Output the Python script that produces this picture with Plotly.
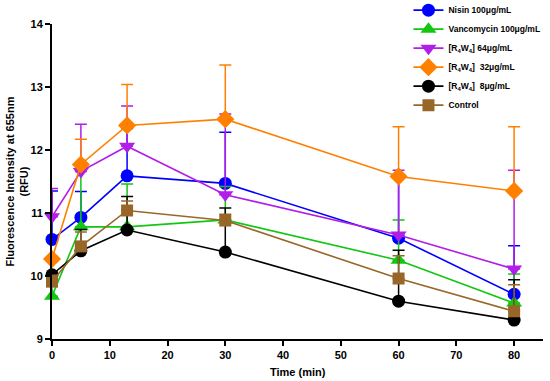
import plotly.graph_objects as go

time = [0, 5, 13, 30, 60, 80]

names = ["Nisin 100μg/mL", "Vancomycin 100μg/mL",
         "[R<sub>4</sub>W<sub>4</sub>] 64μg/mL", "[R<sub>4</sub>W<sub>4</sub>]  32μg/mL",
         "[R<sub>4</sub>W<sub>4</sub>]  8μg/mL", "Control"]

nisin = [10.58, 10.93, 11.59, 11.47, 10.60, 9.71]
nisin_err = [0.77, 0.41, 0.75, 0.81, 0.97, 0.77]
vanco = [9.68, 10.78, 10.78, 10.89, 10.25, 9.57]
vanco_err = [0.39, 0.94, 0.68, 0.53, 0.64, 0.46]
r64 = [10.94, 11.66, 12.06, 11.29, 10.65, 10.11]
r64_err = [0.45, 0.75, 0.64, 1.28, 1.03, 1.57]
r32 = [10.27, 11.77, 12.39, 12.49, 11.58, 11.35]
r32_err = [0.04, 0.40, 0.65, 0.86, 0.79, 1.02]
r8 = [10.02, 10.40, 10.73, 10.38, 9.60, 9.30]
r8_err = [0.04, 0.34, 0.53, 0.70, 0.81, 0.64]
control = [9.91, 10.47, 11.04, 10.88, 9.96, 9.44]
control_err = [0.10, 0.23, 0.15, 0.10, 0.36, 0.42]

x_ticks = [0, 10, 20, 30, 40, 50, 60, 70, 80]
y_ticks = [9, 10, 11, 12, 13, 14]

series = [
    (names[0], nisin, nisin_err, "#0000FF", "circle", 13),
    (names[1], vanco, vanco_err, "#11C711", "triangle-up", 14),
    (names[2], r64, r64_err, "#B01EE8", "triangle-down", 14),
    (names[3], r32, r32_err, "#FF8000", "diamond", 14),
    (names[4], r8, r8_err, "#000000", "circle", 13),
    (names[5], control, control_err, "#99662A", "square", 12),
]

fig = go.Figure()
for name, vals, err, col, sym, size in series:
    fig.add_trace(go.Scatter(
        x=time, y=vals, name=name, mode="lines+markers",
        line=dict(color=col, width=1.6),
        marker=dict(color=col, symbol=sym, size=size),
        error_y=dict(type="data", symmetric=False, array=err,
                     arrayminus=[0] * len(err), color=col, thickness=1.5, width=6),
        cliponaxis=False,
    ))

FONT = "Liberation Sans, Arial"
W, H = 550, 381
ML, MR, MT, MB = 52, 7, 24, 42
pw, ph = W - ML - MR, H - MT - MB

fig.update_layout(
    width=W, height=H,
    margin=dict(l=ML, r=MR, t=MT, b=MB, autoexpand=False),
    plot_bgcolor="white", paper_bgcolor="white",
    font=dict(family=FONT, color="black"),
    showlegend=True,
    legend=dict(x=0.726, y=1.09, xanchor="left", yanchor="top",
                font=dict(size=8.5, family=FONT, color="black", weight="bold"),
                bgcolor="rgba(0,0,0,0)", itemwidth=30, tracegroupgap=0),
    annotations=[
        dict(text="<b>Time (min)</b>", x=0.5, y=-33 / ph, xref="paper", yref="paper",
             yanchor="middle", showarrow=False, font=dict(size=11, family=FONT, color="black")),
        dict(text="<b>Fluorescence Intensity at 655nm<br>(RFU)</b>", x=-36 / pw, y=0.5,
             xref="paper", yref="paper", xanchor="center", textangle=-90, showarrow=False,
             font=dict(size=11, family=FONT, color="black")),
    ],
)

fig.update_xaxes(
    range=[0, 85], tickvals=x_ticks, showline=True, linecolor="black", linewidth=2,
    ticks="outside", ticklen=5, tickwidth=2, tickcolor="black", showgrid=False, zeroline=False,
    tickfont=dict(size=11, weight="bold"),
)
fig.update_yaxes(
    range=[9, 14], tickvals=y_ticks, showline=True, linecolor="black", linewidth=2,
    ticks="outside", ticklen=5, tickwidth=2, tickcolor="black", showgrid=False, zeroline=False,
    tickfont=dict(size=11, weight="bold"),
)

fig.write_html("out.html", config={"displayModeBar": False},
               post_script="document.body.style.margin='0';")
